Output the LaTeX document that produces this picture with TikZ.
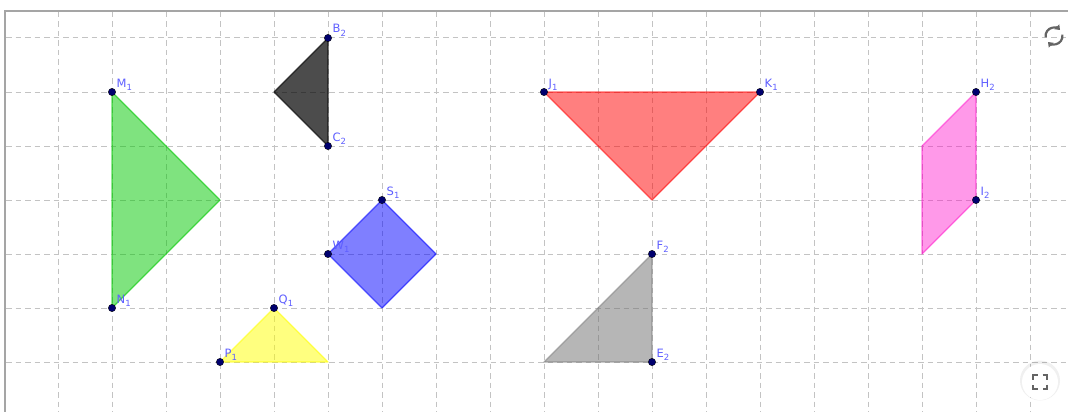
\documentclass[tikz,border=0pt]{standalone}
\usepackage{fontspec}
\setmainfont{DejaVu Sans}
\usetikzlibrary{arrows.meta}
\definecolor{ptblue}{RGB}{0,0,110}
\definecolor{lblblue}{RGB}{95,95,255}
\definecolor{gridgray}{RGB}{195,195,195}
\definecolor{framegray}{RGB}{165,165,165}
\definecolor{ggreen}{RGB}{0,200,0}
\definecolor{gred}{RGB}{255,0,0}
\definecolor{gblue}{RGB}{0,0,255}
\definecolor{gyellow}{RGB}{255,255,0}
\definecolor{ggray}{RGB}{110,110,110}
\definecolor{gdark}{RGB}{0,0,0}
\definecolor{gpink}{RGB}{255,0,200}
\definecolor{icongray}{RGB}{100,100,100}
\tikzset{
  gridline/.style={draw=gridgray,line width=1pt,dash pattern=on 5.5pt off 4pt},
  poly/.style={line width=1.3pt,line join=round,draw=#1,fill=#1,fill opacity=0.5,draw opacity=0.6},
  ptdot/.style={fill=ptblue,draw=black,line width=0.3pt},
  ptlabel/.style={text=lblblue,anchor=base west,inner sep=0pt,font=\fontsize{11.5}{13}\selectfont},
}
\newcommand{\sbs}[1]{\raisebox{-3.5pt}{\fontsize{8.5}{9}\selectfont #1}}
\begin{document}
\begin{tikzpicture}[x=1pt,y=-1pt]
\useasboundingbox (0,0) rectangle (1068,412);
\fill[white] (0,0) rectangle (1068,412);
% grid
\foreach \k in {1,...,19} {\draw[gridline] (4+54*\k,12) -- (4+54*\k,412);}
\foreach \j in {1,...,7} {\draw[gridline] (6,-16+54*\j) -- (1068,-16+54*\j);}
% frame
\draw[framegray,line width=2pt] (5,412) -- (5,11) -- (1068,11);
% vertices
\coordinate (M1) at (112,92); \coordinate (N1) at (112,308); \coordinate (G3) at (220,200);
\coordinate (B2) at (328,38); \coordinate (C2) at (328,146); \coordinate (D3) at (274,92);
\coordinate (S1) at (382,200); \coordinate (W1) at (328,254); \coordinate (R3) at (436,254); \coordinate (R4) at (382,308);
\coordinate (Q1) at (274,308); \coordinate (P1) at (220,362); \coordinate (Y3) at (328,362);
\coordinate (J1) at (544,92); \coordinate (K1) at (760,92); \coordinate (T3) at (652,200);
\coordinate (F2) at (652,254); \coordinate (E2) at (652,362); \coordinate (A3) at (544,362);
\coordinate (H2) at (976,92); \coordinate (I2) at (976,200); \coordinate (L3) at (922,254); \coordinate (L4) at (922,146);
% polygons
\draw[poly=ggreen] (M1) -- (G3) -- (N1) -- cycle;
\draw[poly=gdark,fill opacity=0.7,draw opacity=0.7] (B2) -- (D3) -- (C2) -- cycle;
\draw[poly=gblue] (S1) -- (R3) -- (R4) -- (W1) -- cycle;
\draw[poly=gyellow] (Q1) -- (Y3) -- (P1) -- cycle;
\draw[poly=gred] (J1) -- (K1) -- (T3) -- cycle;
\draw[poly=ggray,fill opacity=0.5,draw opacity=0.5] (F2) -- (E2) -- (A3) -- cycle;
\draw[poly=gpink,fill opacity=0.4,draw opacity=0.5] (H2) -- (I2) -- (L3) -- (L4) -- cycle;
% points and labels
\foreach \p/\l/\s in {M1/M/1,N1/N/1,B2/B/2,C2/C/2,S1/S/1,W1/W/1,Q1/Q/1,P1/P/1,J1/J/1,K1/K/1,F2/F/2,E2/E/2,H2/H/2,I2/I/2} {
  \fill[ptdot] (\p) circle (3.7pt);
  \node[ptlabel] (lab\p) at ([xshift=4.5pt,yshift=5pt]\p) {\l\sbs{\s}};
}
% refresh icon
\coordinate (rc) at (1054,36);
\draw[icongray,line width=2.2pt,-{Triangle[length=4.5pt,width=6.5pt]}] ([shift={(190:8.5pt)}]rc) arc[start angle=190,end angle=45,radius=8.5pt];
\draw[icongray,line width=2.2pt,-{Triangle[length=4.5pt,width=6.5pt]}] ([shift={(10:8.5pt)}]rc) arc[start angle=10,end angle=-135,radius=8.5pt];
% fullscreen button
\coordinate (fc) at (1040,382);
\fill[black,opacity=0.06] ([yshift=1.5pt]fc) circle (20pt);
\fill[white] (fc) circle (18pt);
\begin{scope}[shift={(fc)},icongray,line width=1.8pt]
\draw (-7,-2.5) -- (-7,-7) -- (-2.5,-7);
\draw (2.5,-7) -- (7,-7) -- (7,-2.5);
\draw (7,2.5) -- (7,7) -- (2.5,7);
\draw (-2.5,7) -- (-7,7) -- (-7,2.5);
\end{scope}
\end{tikzpicture}
\end{document}
